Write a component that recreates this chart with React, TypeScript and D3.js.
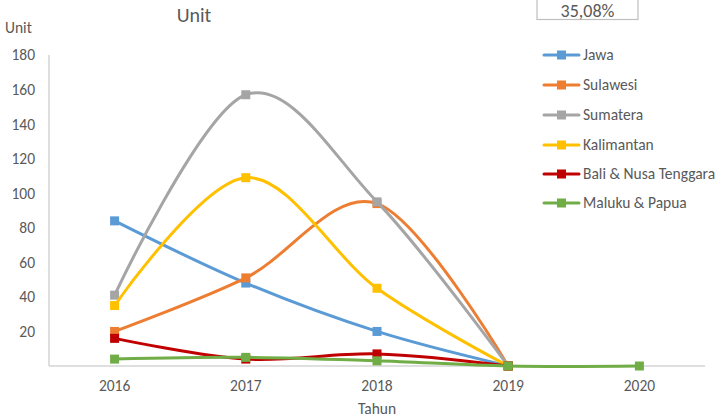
import React from "react";
import * as d3 from "d3";

const years = [2016, 2017, 2018, 2019, 2020];
const seriesNames = ["Jawa", "Sulawesi", "Sumatera", "Kalimantan", "Bali & Nusa Tenggara", "Maluku & Papua"];
const colors = ["#5B9BD5", "#ED7D31", "#A5A5A5", "#FFC000", "#C00000", "#70AD47"];
const jawa = [84, 48, 20, 0];
const sulawesi = [20, 51, 94, 0];
const sumatera = [41, 157, 95, 0];
const kalimantan = [35, 109, 45, 0];
const bali = [16, 4, 7, 0];
const maluku = [4, 5, 3, 0, 0];
const yTicks = [20, 40, 60, 80, 100, 120, 140, 160, 180];
const allSeries = [jawa, sulawesi, sumatera, kalimantan, bali, maluku];

export default function App() {
  const W = 719, H = 417;
  const x = d3.scaleLinear().domain([2015.5, 2020.5]).range([49, 705]);
  const y = d3.scaleLinear().domain([0, 180]).range([366, 55]);
  const line = d3
    .line<number>()
    .x((_, i) => x(years[i]))
    .y((d) => y(d))
    .curve(d3.curveCardinal.tension(0));
  const font = "Calibri, Carlito, Lato, 'Liberation Sans', Arial, sans-serif";
  const textColor = "#595959";
  return (
    <svg width={W} height={H} style={{ position: "absolute", left: 0, top: 0 }} fontFamily={font}>
      <rect width={W} height={H} fill="#fff" />
      {/* title */}
      <text x={194} y={22} textAnchor="middle" fontSize={20} fill={textColor}>Unit</text>
      {/* percentage box */}
      <rect x={537} y={-5} width={101} height={24.5} fill="#fff" stroke="#BFBFBF" strokeWidth={1.2} />
      <text x={587.5} y={17} textAnchor="middle" fontSize={18} fill={textColor}>35,08%</text>
      {/* y axis label */}
      <text x={5} y={33} fontSize={15.5} fill={textColor}>Unit</text>
      {/* axes */}
      <line x1={49} x2={49} y1={55} y2={366} stroke="#BFBFBF" strokeWidth={1} />
      <line x1={49} x2={705} y1={366} y2={366} stroke="#BFBFBF" strokeWidth={1} />
      {yTicks.map((t) => (
        <text key={t} x={35} y={y(t)} dy="0.35em" textAnchor="end" fontSize={15.5} fill={textColor}>{t}</text>
      ))}
      {years.map((yr) => (
        <text key={yr} x={x(yr)} y={391} textAnchor="middle" fontSize={15.5} fill={textColor}>{yr}</text>
      ))}
      <text x={377} y={414} textAnchor="middle" fontSize={15.5} fill={textColor}>Tahun</text>
      {/* series */}
      {allSeries.map((s, si) => (
        <g key={si}>
          <path d={line(s) || ""} fill="none" stroke={colors[si]} strokeWidth={3} strokeLinejoin="round" strokeLinecap="round" />
          {s.map((v, i) => (
            <rect key={i} x={x(years[i]) - 4.5} y={y(v) - 4.5} width={9} height={9} fill={colors[si]} />
          ))}
        </g>
      ))}
      {/* legend */}
      {seriesNames.map((n, i) => {
        const ly = [55, 85, 115, 145, 174, 203][i];
        return (
          <g key={n}>
            <line x1={544} x2={579} y1={ly} y2={ly} stroke={colors[i]} strokeWidth={3} strokeLinecap="round" />
            <rect x={557} y={ly - 4.5} width={9} height={9} fill={colors[i]} />
            <text x={583} y={ly} dy="0.35em" fontSize={15.5} fill={textColor}>{n}</text>
          </g>
        );
      })}
    </svg>
  );
}
